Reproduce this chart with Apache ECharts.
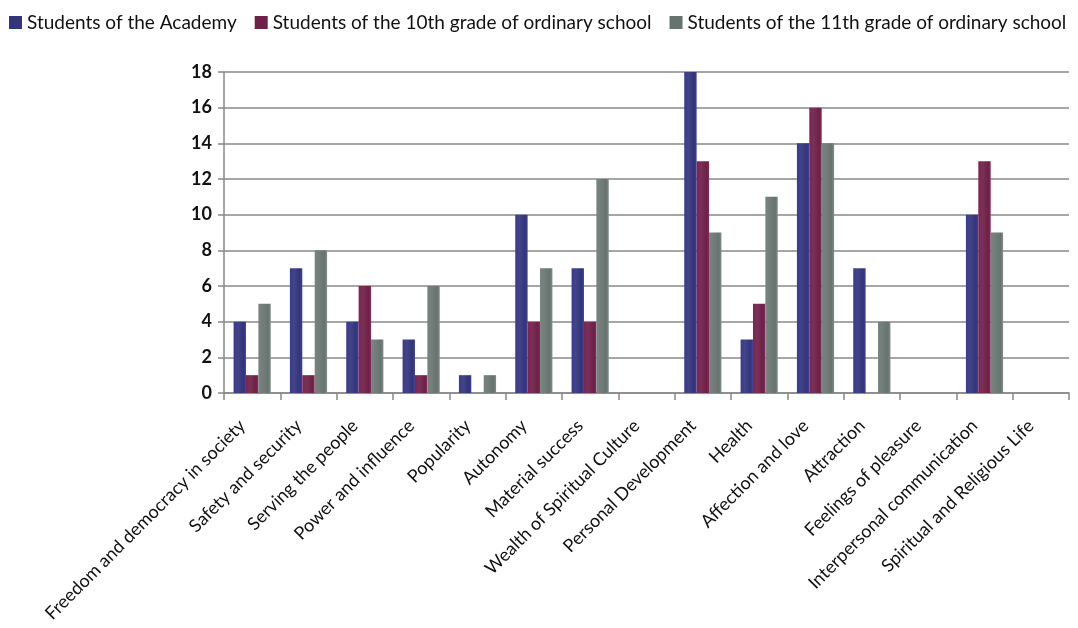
<!DOCTYPE html>
<html><head><meta charset="utf-8">
<script src="https://cdn.jsdelivr.net/npm/echarts@6/dist/echarts.min.js"></script>
<style>html,body{margin:0;padding:0;background:#fff}#c{width:1078px;height:628px}</style>
</head><body><div id="c"></div>
<script>
const categories = ["Freedom and democracy in society","Safety and security","Serving the people","Power and influence","Popularity","Autonomy","Material success","Wealth of Spiritual Culture","Personal Development","Health","Affection and love","Attraction","Feelings of pleasure","Interpersonal communication","Spiritual and Religious Life"];
const seriesNames = ["Students of the Academy","Students of the 10th grade of ordinary school","Students of the 11th grade of ordinary school"];
const academy = [4,7,4,3,1,10,7,0,18,3,14,7,0,10,0];
const grade10 = [1,1,6,1,0,4,4,0,13,5,16,0,0,13,0];
const grade11 = [5,8,3,6,1,7,12,0,9,11,14,4,0,9,0];
const yTicks = [0,2,4,6,8,10,12,14,16,18];
const colors = ["#32347c","#6e2047","#67736f"];
function grad(c){
  return new echarts.graphic.LinearGradient(0,0,1,0,[
    {offset:0,color:echarts.color.lift(c,-0.15)},
    {offset:0.35,color:echarts.color.lift(c,0.08)},
    {offset:0.8,color:c},
    {offset:1,color:echarts.color.lift(c,-0.25)}]);
}
const chart = echarts.init(document.getElementById('c'),null,{renderer:'canvas'});
const datas=[academy,grade10,grade11];
chart.setOption({
  animation:false,
  legend:{left:4,top:8,itemWidth:13,itemHeight:13,itemGap:18,icon:'rect',
    textStyle:{fontFamily:'Lato',fontSize:19,color:'#111'},
    data:seriesNames.map((n,i)=>({name:n,itemStyle:{color:colors[i]}}))},
  grid:{left:224,right:9,top:72,bottom:235,containLabel:false},
  xAxis:{type:'category',data:categories,
    axisLine:{lineStyle:{color:'#888',width:1.5}},
    axisTick:{show:true,length:7,lineStyle:{color:'#888',width:1.5}},
    axisLabel:{rotate:45,interval:0,margin:20,padding:[0,14,0,0],fontFamily:'Lato',fontSize:18,color:'#111'}},
  yAxis:{type:'value',min:0,max:18,interval:2,
    axisLine:{show:true,lineStyle:{color:'#888',width:1.5}},
    axisTick:{show:true,length:6,lineStyle:{color:'#888',width:1.5}},
    splitLine:{lineStyle:{color:'#888',width:1.5}},
    axisLabel:{fontFamily:'Lato',fontWeight:'bold',fontSize:18,color:'#111',margin:12,
      formatter:v=>yTicks.includes(v)?String(v):''}},
  series:datas.map((d,i)=>({name:seriesNames[i],type:'bar',data:d,barGap:'0%',barCategoryGap:'34%',
    itemStyle:{color:grad(colors[i])}}))
});
</script></body></html>
